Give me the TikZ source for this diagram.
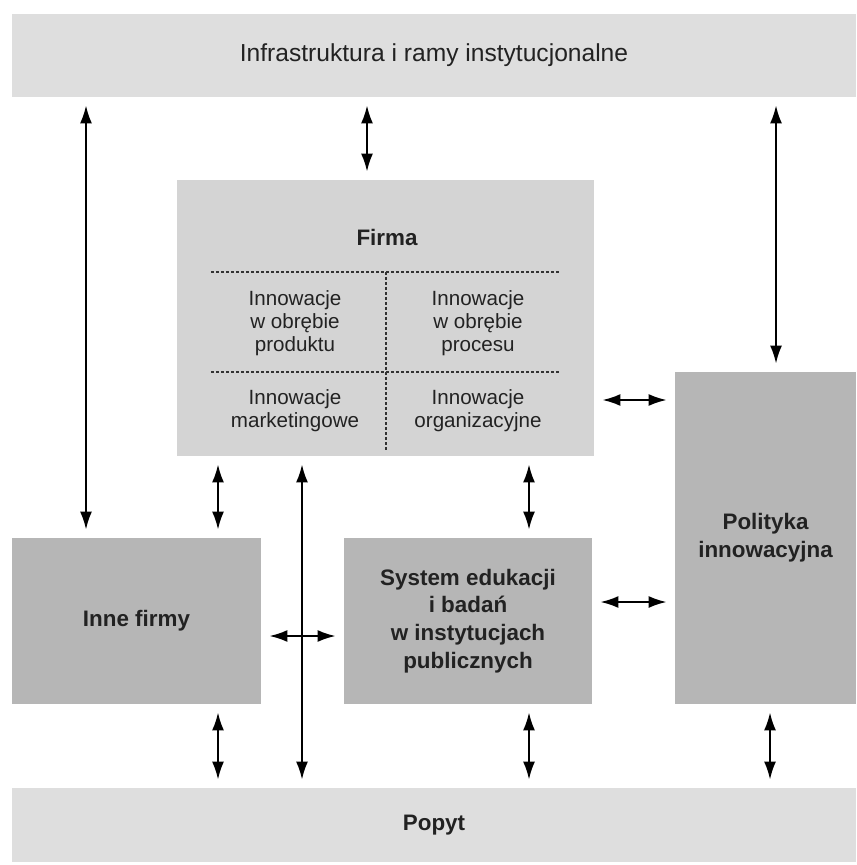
\documentclass[tikz,border=0pt]{standalone}
\usepackage{fontspec}
\setmainfont{Liberation Sans}
\usetikzlibrary{arrows.meta}

\definecolor{barfill}{HTML}{DEDEDE}
\definecolor{firmfill}{HTML}{D4D4D4}
\definecolor{blockfill}{HTML}{B6B6B6}
\definecolor{inktext}{HTML}{222222}

\begin{document}
\begin{tikzpicture}[x=0.5pt,y=-0.5pt,>={Latex[length=9pt,width=6pt]},
		every node/.style={shape=rectangle,inner sep=0pt,text=inktext},
		bar/.style={fill=barfill,font=\fontsize{12.3}{14}\selectfont},
		block/.style={fill=blockfill,align=center,
			font=\bfseries\fontsize{11.2}{13.8}\selectfont},
		cell/.style={align=center,font=\fontsize{10.3}{11.5}\selectfont},
		conn/.style={<->,line width=1pt,shorten >=4pt,shorten <=4pt},
		divider/.style={dash pattern=on 1.6pt off 0.9pt,
			line width=0.6pt,draw=black!80}]
		\useasboundingbox (0,0) rectangle (856,865);

		% create the nodes
		\node[bar,minimum width=422pt,minimum height=41.5pt] (infra) at (434,55.5)
			{Infrastruktura i ramy instytucjonalne};
		\node[fill=firmfill,minimum width=208.5pt,minimum height=138pt] (firma)
			at (385.5,318) {};
		\node[font=\bfseries\fontsize{11.2}{14}\selectfont] (firmatitle) at (387,237) {Firma};
		\node[cell] (produkt) at (295,323) {Innowacje\\w obrębie\\produktu};
		\node[cell] (proces) at (478,323) {Innowacje\\w obrębie\\procesu};
		\node[cell] (marketing) at (295,411) {Innowacje\\marketingowe};
		\node[cell] (organizacja) at (478,411) {Innowacje\\organizacyjne};
		\node[block,minimum width=124.5pt,minimum height=83pt] (inne) at (136.5,621)
			{Inne firmy};
		\node[block,minimum width=124pt,minimum height=83pt] (system) at (468,621)
			{System edukacji\\i badań\\w instytucjach\\publicznych};
		\node[block,minimum width=90.5pt,minimum height=166pt] (polityka)
			at (765.5,538) {Polityka\\innowacyjna};
		\node[bar,font=\bfseries\fontsize{11.2}{14}\selectfont,minimum width=422pt,
			minimum height=37pt] (popyt) at (434,825) {Popyt};

		% dashed split of the firm
		\draw[divider] (211,272) -- (560,272);
		\draw[divider] (211,372) -- (560,372);
		\draw[divider] (386,272) -- (386,450);

		% columns and rows of the connectors
		\coordinate (colA) at (86,0);
		\coordinate (colB) at (218,0);
		\coordinate (colC) at (302,0);
		\coordinate (colD) at (367,0);
		\coordinate (colE) at (529,0);
		\coordinate (colF) at (770,0);
		\coordinate (colG) at (776,0);
		\coordinate (rowA) at (0,400);
		\coordinate (rowB) at (0,602);
		\coordinate (rowC) at (0,636);

		% connect the nodes
		\draw[conn] (infra.south -| colA) -- (inne.north -| colA);
		\draw[conn] (infra.south -| colD) -- (firma.north -| colD);
		\draw[conn] (infra.south -| colG) -- (polityka.north -| colG);
		\draw[conn] (firma.south -| colB) -- (inne.north -| colB);
		\draw[conn] (firma.south -| colC) -- (popyt.north -| colC);
		\draw[conn] (firma.south -| colE) -- (system.north -| colE);
		\draw[conn] (firma.east |- rowA) -- (polityka.west |- rowA);
		\draw[conn] (inne.east |- rowC) -- (system.west |- rowC);
		\draw[conn] (system.east |- rowB) -- (polityka.west |- rowB);
		\draw[conn] (inne.south -| colB) -- (popyt.north -| colB);
		\draw[conn] (system.south -| colE) -- (popyt.north -| colE);
		\draw[conn] (polityka.south -| colF) -- (popyt.north -| colF);

	\end{tikzpicture}
\end{document}
